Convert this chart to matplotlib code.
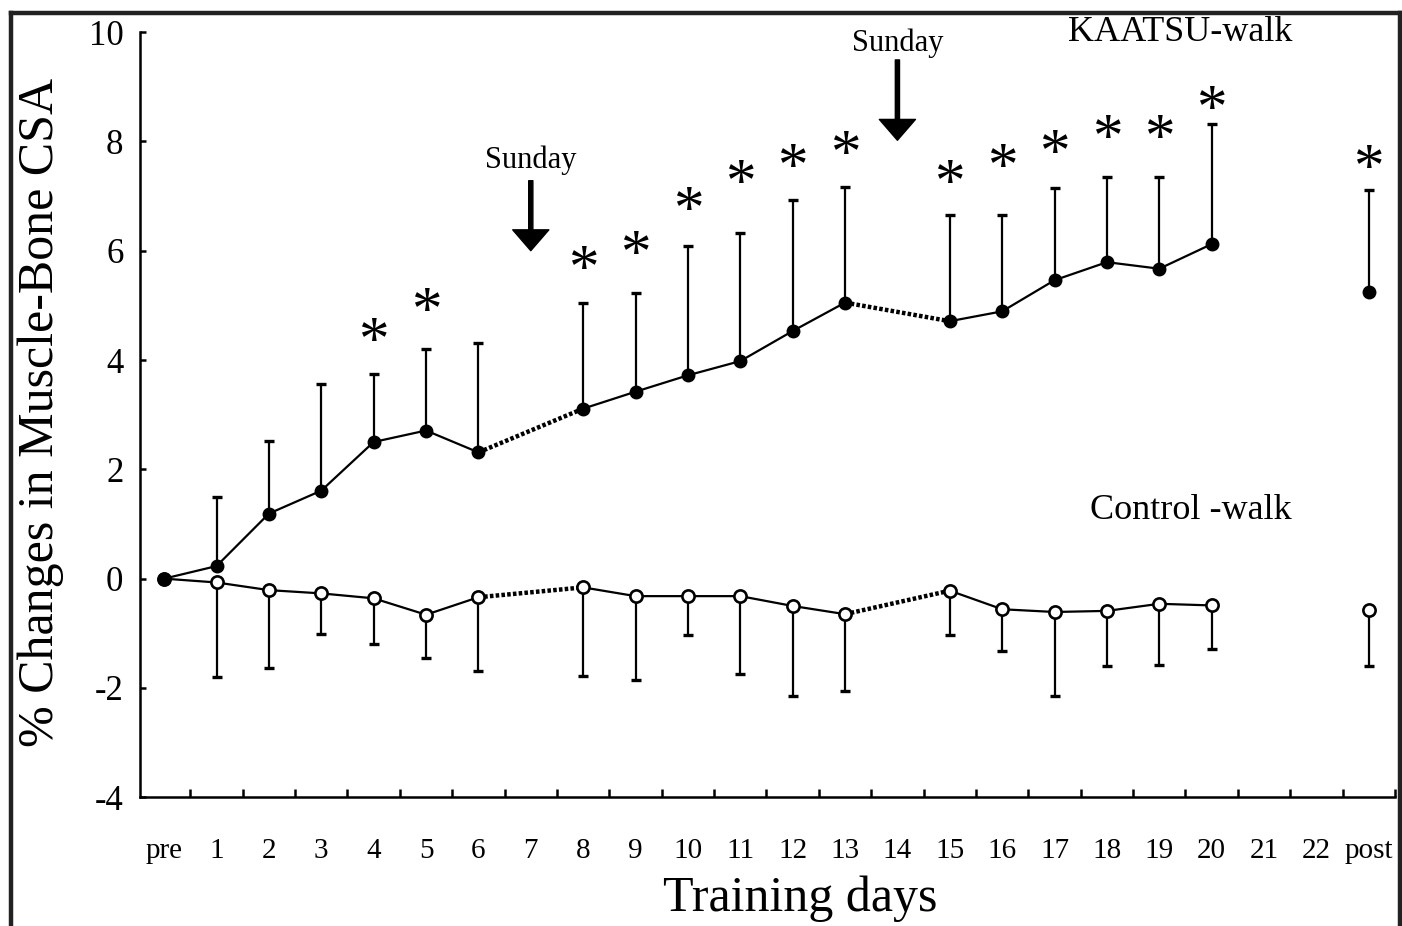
import numpy as np
import matplotlib
matplotlib.use('Agg')
import matplotlib.pyplot as plt
from matplotlib.lines import Line2D

plt.rcParams['font.family'] = ['Liberation Serif', 'DejaVu Serif']
plt.rcParams['axes.unicode_minus'] = False

days = ['pre'] + [str(d) for d in range(1, 23)] + ['post']

nan = np.nan
# KAATSU-walk: mean and upper SD tip
kaatsu_mean = [0, 0.23, 1.19, 1.61, 2.5, 2.71, 2.31, nan, 3.11, 3.42, 3.72, 3.98,
               4.53, 5.05, nan, 4.71, 4.89, 5.46, 5.79, 5.67, 6.12, nan, nan, 5.24]
kaatsu_top = [0, 1.5, 2.51, 3.56, 3.75, 4.2, 4.32, nan, 5.04, 5.23, 6.08, 6.33,
              6.92, 7.17, nan, 6.66, 6.66, 7.14, 7.34, 7.34, 8.31, nan, nan, 7.11]
# Control-walk: mean and lower SD tip
control_mean = [0, -0.07, -0.21, -0.27, -0.36, -0.66, -0.34, nan, -0.16, -0.32, -0.32, -0.32,
                -0.5, -0.65, nan, -0.22, -0.56, -0.61, -0.59, -0.46, -0.49, nan, nan, -0.58]
control_bot = [0, -1.8, -1.64, -1.01, -1.19, -1.46, -1.69, nan, -1.78, -1.85, -1.04, -1.74,
               -2.14, -2.06, nan, -1.03, -1.33, -2.14, -1.6, -1.58, -1.29, nan, nan, -1.6]

# significance asterisks (day label, y of asterisk)
star_days = ['4', '5', '8', '9', '10', '11', '12', '13', '15', '16', '17', '18', '19', '20', 'post']
star_y = [4.53, 5.08, 5.85, 6.13, 6.92, 7.43, 7.71, 7.96, 7.43, 7.71, 7.98, 8.24, 8.24, 8.77, 7.69]

sundays = ['7', '14']
sunday_text_y = [7.65, 9.8]
sunday_arrow = [(7.28, 6.0), (9.49, 8.02)]

x = np.arange(len(days))
km = np.array(kaatsu_mean, dtype=float)
kt = np.array(kaatsu_top, dtype=float)
cm = np.array(control_mean, dtype=float)
cb = np.array(control_bot, dtype=float)

fig = plt.figure(figsize=(14.02, 9.26), dpi=100)
ax = fig.add_axes([0.0999, 0.139, 0.8951, 0.8264])

dot = (0, (0.8, 0.5))


def bridges(ax, y):
    # dotted line across a single missing day (Sunday)
    for i in range(1, len(y) - 1):
        if np.isnan(y[i]) and not np.isnan(y[i - 1]) and not np.isnan(y[i + 1]):
            ax.plot([x[i - 1], x[i + 1]], [y[i - 1], y[i + 1]], color='black',
                    lw=3.2, linestyle=dot, zorder=2, solid_capstyle='butt')


# error bars
ok = ~np.isnan(km)
ax.errorbar(x[ok][1:], km[ok][1:], yerr=[np.zeros(ok.sum() - 1), (kt - km)[ok][1:]],
            fmt='none', ecolor='black', elinewidth=1.6, capsize=3.6, capthick=2.4, zorder=1)
ok = ~np.isnan(cm)
ax.errorbar(x[ok][1:], cm[ok][1:], yerr=[(cm - cb)[ok][1:], np.zeros(ok.sum() - 1)],
            fmt='none', ecolor='black', elinewidth=1.6, capsize=3.6, capthick=2.4, zorder=1)

# lines
ax.plot(x, km, color='black', lw=1.6, zorder=2)
ax.plot(x, cm, color='black', lw=1.6, zorder=2)
bridges(ax, km)
bridges(ax, cm)

ax.plot(x, cm, linestyle='none', marker='o', ms=8.8, mfc='white', mec='black', mew=1.9, zorder=4)
ax.plot(x, km, linestyle='none', marker='o', ms=9, mfc='black', mec='black', zorder=5)

# asterisks
for d, yy in zip(star_days, star_y):
    ax.annotate('*', (days.index(d), yy), xytext=(0, -19.5), textcoords='offset points',
                ha='center', va='baseline', fontsize=44)

# Sunday arrows
for d, ty, (a0, a1) in zip(sundays, sunday_text_y, sunday_arrow):
    xi = days.index(d)
    ax.text(xi, ty, 'Sunday', ha='center', va='center', fontsize=22)
    ax.annotate('', xy=(xi, a1), xytext=(xi, a0),
                arrowprops=dict(facecolor='black', edgecolor='black', width=3,
                                headwidth=26, headlength=15, shrink=0))

ax.text(19.4, 9.99, 'KAATSU-walk', ha='center', va='center', fontsize=26)
ax.text(19.6, 1.25, 'Control -walk', ha='center', va='center', fontsize=26)

ax.set_xlim(-0.46, 23.5)
ax.set_ylim(-4, 10)
ax.set_yticks(np.arange(-4, 11, 2))
ax.set_xticks(x)
ax.set_xticklabels(days)
ax.set_xticks(x + 0.5, minor=True)
ax.tick_params(axis='x', which='major', length=0, pad=29, labelsize=21)
ax.tick_params(axis='x', which='minor', direction='in', length=6, width=1.8)
ax.tick_params(axis='y', direction='in', length=4, width=1.8, pad=12, labelsize=25)

for s in ['top', 'right']:
    ax.spines[s].set_visible(False)
for s in ['left', 'bottom']:
    ax.spines[s].set_linewidth(1.8)

ax.set_ylabel('% Changes in Muscle-Bone CSA', fontsize=36)
ax.yaxis.set_label_coords(-0.061, 0.503)
ax.text(0.526, -0.132, 'Training days', transform=ax.transAxes, ha='center', va='center',
        fontsize=36)

# outer frame
W, H = 1402.0, 926.0
fig.add_artist(Line2D([11 / W, 11 / W], [0, 1 - 13 / H], color='#222222', lw=3.2))
fig.add_artist(Line2D([11 / W, 1400 / W], [1 - 13 / H, 1 - 13 / H], color='#222222', lw=3.2))
fig.add_artist(Line2D([1400 / W, 1400 / W], [0, 1 - 13 / H], color='#222222', lw=3.2))

fig.savefig('out.png', dpi=100)
